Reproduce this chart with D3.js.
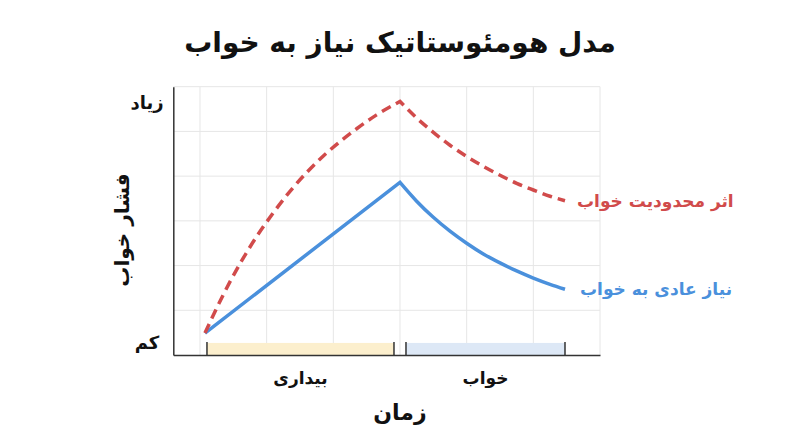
<!DOCTYPE html>
<html><head><meta charset="utf-8">
<script src="https://cdn.jsdelivr.net/npm/d3@7"></script>
<style>
body{margin:0;background:#fff;}
svg{display:block;font-family:"DejaVu Sans",sans-serif;}
</style></head>
<body><svg id="c" width="800" height="447"></svg>
<script>
const title = "مدل هومئوستاتیک نیاز به خواب";
const xTitle = "زمان";
const yTitle = "فشار خواب";
const yTickLabels = ["کم", "زیاد"];
const yTickValues = [0.27, 5.64];
const gridX = [0, 1, 2, 3, 4, 5, 6];
const gridY = [1, 2, 3, 4, 5, 6];

const phases = ["بیداری", "خواب"];
const phaseStart = [0.105, 3.09];
const phaseEnd = [2.91, 5.475];
const phaseColors = ["#fcefcd", "#dde8f6"];

const seriesNames = ["اثر محدودیت خواب", "نیاز عادی به خواب"];
const seriesColors = ["#d14b4b", "#4a90dc"];

const redRiseX = [0.075, 0.35, 0.6, 0.85, 1.1, 1.35, 1.6, 1.85, 2.1, 2.35, 2.65, 3.0];
const redRiseY = [0.49, 1.35, 2.04, 2.65, 3.18, 3.66, 4.08, 4.45, 4.77, 5.06, 5.37, 5.67];
const redFallX = [3.0, 3.25, 3.5, 3.75, 4.0, 4.25, 4.5, 4.75, 5.0, 5.25, 5.475];
const redFallY = [5.67, 5.30, 4.98, 4.69, 4.44, 4.22, 4.02, 3.84, 3.69, 3.55, 3.45];

const blueRiseX = [0.075, 3.0];
const blueRiseY = [0.49, 3.86];
const blueFallX = [3.0, 3.25, 3.5, 3.75, 4.0, 4.25, 4.5, 4.75, 5.0, 5.25, 5.475];
const blueFallY = [3.86, 3.44, 3.08, 2.77, 2.50, 2.26, 2.06, 1.88, 1.72, 1.58, 1.47];

const svg = d3.select("#c");
const x = d3.scaleLinear().domain([-0.4, 6]).range([173.3, 600]);
const y = d3.scaleLinear().domain([0, 6]).range([355, 86.7]);

// grid
svg.append("g").selectAll("line").data(gridX).join("line")
  .attr("x1", d => x(d)).attr("x2", d => x(d))
  .attr("y1", y(0)).attr("y2", y(6))
  .attr("stroke", "#e6e6e6").attr("stroke-width", 1);
svg.append("g").selectAll("line").data(gridY).join("line")
  .attr("x1", x(-0.4)).attr("x2", x(6))
  .attr("y1", d => y(d)).attr("y2", d => y(d))
  .attr("stroke", "#e6e6e6").attr("stroke-width", 1);

// phase bands
const bands = svg.append("g");
phases.forEach((p, i) => {
  bands.append("rect")
    .attr("x", x(phaseStart[i])).attr("width", x(phaseEnd[i]) - x(phaseStart[i]))
    .attr("y", y(0.27)).attr("height", y(0) - y(0.27))
    .attr("fill", phaseColors[i]);
  [phaseStart[i], phaseEnd[i]].forEach(v => {
    bands.append("line")
      .attr("x1", x(v)).attr("x2", x(v))
      .attr("y1", y(0.29)).attr("y2", y(0))
      .attr("stroke", "#333").attr("stroke-width", 1.5);
  });
  svg.append("text")
    .attr("x", x((phaseStart[i] + phaseEnd[i]) / 2)).attr("y", 384)
    .attr("text-anchor", "middle").attr("font-size", 17).attr("font-weight", "bold")
    .attr("fill", "#111").text(p);
});

// axes
const xAxis = d3.axisBottom(x).tickValues([]).tickSizeOuter(0);
const yAxis = d3.axisLeft(y).tickValues([]).tickSizeOuter(0);
svg.append("g").attr("transform", `translate(0,${y(0)})`).call(xAxis)
  .select(".domain").attr("stroke", "#333").attr("stroke-width", 1.5);
svg.append("g").attr("transform", `translate(${x(-0.4)},0)`).call(yAxis)
  .select(".domain").attr("stroke", "#333").attr("stroke-width", 1.5);

// y tick labels
svg.append("g").selectAll("text").data(yTickLabels).join("text")
  .attr("x", 147).attr("y", (d, i) => y(yTickValues[i]))
  .attr("dy", "0.35em").attr("text-anchor", "middle")
  .attr("font-size", 18).attr("font-weight", "bold").attr("fill", "#111")
  .text(d => d);

// lines
function pathFor(rx, ry, fx, fy) {
  const lr = d3.line().x(d => x(d[0])).y(d => y(d[1]))
    .curve(rx.length > 2 ? d3.curveMonotoneX : d3.curveLinear);
  const lf = d3.line().x(d => x(d[0])).y(d => y(d[1])).curve(d3.curveMonotoneX);
  const a = lr(rx.map((v, i) => [v, ry[i]]));
  const b = lf(fx.map((v, i) => [v, fy[i]])).replace(/^M[^A-Za-z]+/, "");
  return a + b;
}
svg.append("path").attr("d", pathFor(blueRiseX, blueRiseY, blueFallX, blueFallY))
  .attr("fill", "none").attr("stroke", seriesColors[1]).attr("stroke-width", 3.5)
  .attr("stroke-linejoin", "miter");
svg.append("path").attr("d", pathFor(redRiseX, redRiseY, redFallX, redFallY))
  .attr("fill", "none").attr("stroke", seriesColors[0]).attr("stroke-width", 3.5)
  .attr("stroke-dasharray", "10,6").attr("stroke-linejoin", "miter");

// series labels
const ends = [redFallY[redFallY.length - 1], blueFallY[blueFallY.length - 1]];
const endX = [redFallX[redFallX.length - 1], blueFallX[blueFallX.length - 1]];
seriesNames.forEach((n, i) => {
  svg.append("text").attr("x", x(endX[i]) + 12 + i * 3).attr("y", y(ends[i]))
    .attr("dy", "0.35em").attr("font-size", 17).attr("font-weight", "bold")
    .attr("fill", seriesColors[i]).text(n);
});

// titles
svg.append("text").attr("x", 400).attr("y", 52).attr("text-anchor", "middle")
  .attr("font-size", 28).attr("font-weight", "bold").attr("fill", "#111").text(title);
svg.append("text").attr("x", 400).attr("y", 420).attr("text-anchor", "middle")
  .attr("font-size", 22).attr("font-weight", "bold").attr("fill", "#111").text(xTitle);
svg.append("text").attr("transform", "translate(129,230) rotate(-90)")
  .attr("text-anchor", "middle")
  .attr("font-size", 20).attr("font-weight", "bold").attr("fill", "#111").text(yTitle);
</script></body></html>
